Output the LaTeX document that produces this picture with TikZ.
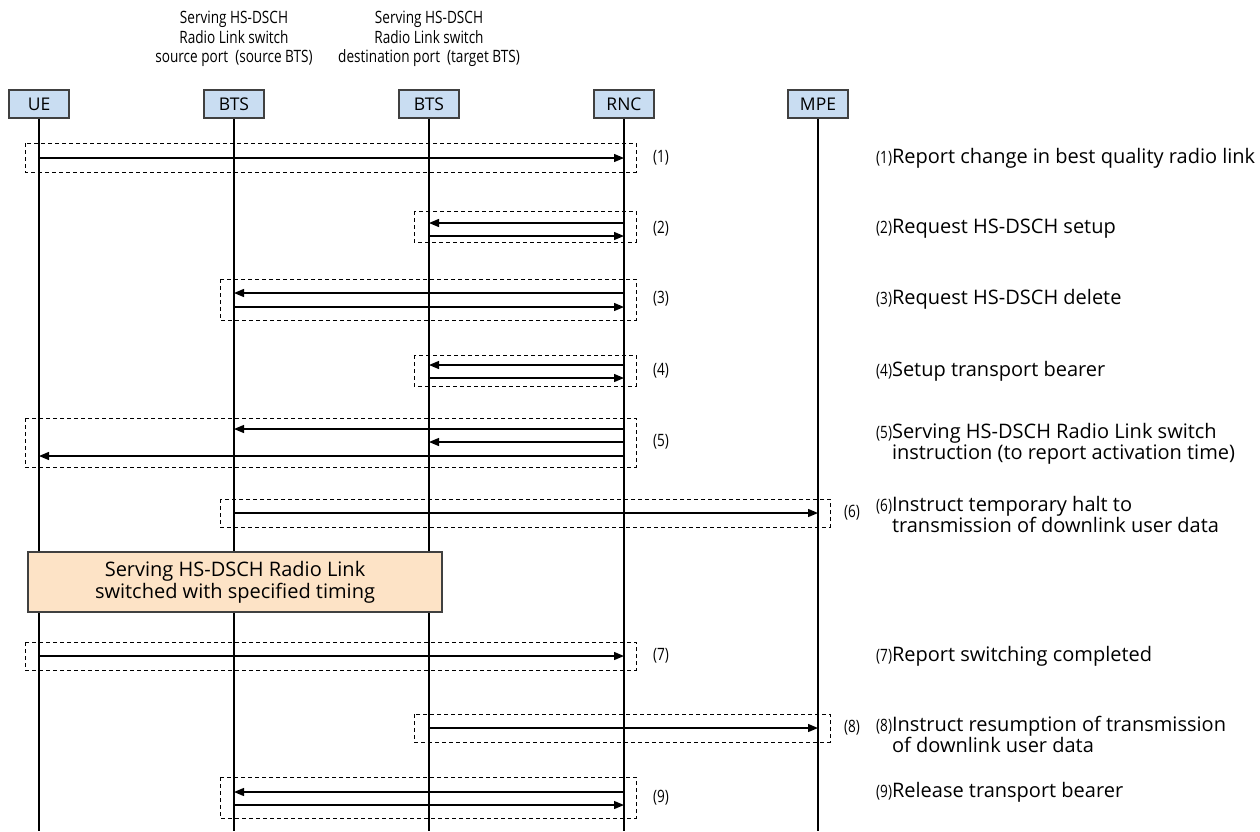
\documentclass[tikz,border=0pt]{standalone}
\usepackage{fontspec}
\setmainfont{Open Sans}
\newfontfamily\narrowfont[FakeStretch=0.8]{Open Sans}
\usetikzlibrary{arrows.meta,positioning}

\definecolor{headblue}{HTML}{C9DDF2}
\definecolor{switchpeach}{HTML}{FDE3C6}
\definecolor{edgegray}{HTML}{404040}

\newcommand{\stepno}[1]{{\narrowfont\fontsize{17}{17}\selectfont(#1)}}

\tikzset{
	entity/.style={draw=edgegray, fill=headblue, line width=1.2pt, minimum width=60pt, minimum height=28pt, inner sep=0pt, font=\fontsize{17.5}{19}\selectfont},
	porttext/.style={align=center, inner sep=0pt, font=\narrowfont\fontsize{17}{19.5}\selectfont},
	life/.style={line width=1.6pt},
	msg/.style={line width=1.3pt, -{Triangle[length=10pt,width=8pt]}},
	grp/.style={line width=0.9pt, dash pattern=on 4pt off 3pt},
	grpno/.style={font=\narrowfont\fontsize{17}{17}\selectfont, inner sep=0pt},
	switchbox/.style={draw=edgegray, fill=switchpeach, line width=1.2pt, minimum width=414pt, minimum height=60pt, align=center, font=\fontsize{20}{22}\selectfont},
	note/.style={anchor=west, align=left, inner sep=0pt, font=\fontsize{20}{18}\selectfont}
}

\begin{document}
\begin{tikzpicture}[x=1pt, y=-1pt]
	
	\useasboundingbox (0,0) rectangle (1260,831);
	
	\coordinate (bottom) at (0,831);
	
	%% heads of the lifelines
	\node[entity] (UE) at (39,104) {UE};
	\node[entity] (BTSs) at (234,104) {BTS};
	\node[entity] (BTSt) at (429,104) {BTS};
	\node[entity] (RNC) at (624,104) {RNC};
	\node[entity] (MPE) at (818,104) {MPE};
	
	\node[porttext] (srcport) at (234,39) {Serving HS-DSCH\\Radio Link switch\\source port\ \ (source BTS)};
	\node[porttext] (dstport) at (429,39) {Serving HS-DSCH\\Radio Link switch\\destination port\ \ (target BTS)};
	
	\foreach \e in {UE, BTSs, BTSt, RNC, MPE}
		\draw[life] (\e.south) -- (\e.south |- bottom);
	
	%% message rows
	\coordinate (m1) at (0,158);
	\coordinate (m2a) at (0,223); \coordinate (m2b) at (0,236);
	\coordinate (m3a) at (0,293); \coordinate (m3b) at (0,307);
	\coordinate (m4a) at (0,365); \coordinate (m4b) at (0,378);
	\coordinate (m5a) at (0,429); \coordinate (m5b) at (0,442); \coordinate (m5c) at (0,456);
	\coordinate (m6) at (0,513);
	\coordinate (m7) at (0,656);
	\coordinate (m8) at (0,728);
	\coordinate (m9a) at (0,792); \coordinate (m9b) at (0,805);
	
	\draw[msg] (UE |- m1) -- (RNC |- m1);
	\draw[msg] (RNC |- m2a) -- (BTSt |- m2a);
	\draw[msg] (BTSt |- m2b) -- (RNC |- m2b);
	\draw[msg] (RNC |- m3a) -- (BTSs |- m3a);
	\draw[msg] (BTSs |- m3b) -- (RNC |- m3b);
	\draw[msg] (RNC |- m4a) -- (BTSt |- m4a);
	\draw[msg] (BTSt |- m4b) -- (RNC |- m4b);
	\draw[msg] (RNC |- m5a) -- (BTSs |- m5a);
	\draw[msg] (RNC |- m5b) -- (BTSt |- m5b);
	\draw[msg] (RNC |- m5c) -- (UE |- m5c);
	\draw[msg] (BTSs |- m6) -- (MPE |- m6);
	\draw[msg] (UE |- m7) -- (RNC |- m7);
	\draw[msg] (BTSt |- m8) -- (MPE |- m8);
	\draw[msg] (RNC |- m9a) -- (BTSs |- m9a);
	\draw[msg] (BTSs |- m9b) -- (RNC |- m9b);
	
	%% dashed frames and their numbers
	\draw[grp] (25,143) rectangle (636,172);
	\draw[grp] (414,211) rectangle (636,242);
	\draw[grp] (220,279) rectangle (636,320);
	\draw[grp] (414,355) rectangle (636,386);
	\draw[grp] (25,418) rectangle (636,467);
	\draw[grp] (220,499) rectangle (830,527);
	\draw[grp] (25,642) rectangle (636,670);
	\draw[grp] (414,714) rectangle (830,742);
	\draw[grp] (220,777) rectangle (636,818);
	
	\node[grpno] (n1) at (661,158) {(1)};
	\node[grpno] (n2) at (661,229) {(2)};
	\node[grpno] (n3) at (661,299) {(3)};
	\node[grpno] (n4) at (661,371) {(4)};
	\node[grpno] (n5) at (661,442) {(5)};
	\node[grpno] (n6) at (852,513) {(6)};
	\node[grpno] (n7) at (661,656) {(7)};
	\node[grpno] (n8) at (852,728) {(8)};
	\node[grpno] (n9) at (661,798) {(9)};
	
	\node[switchbox] (switch) at (235,582) {Serving HS-DSCH Radio Link\\switched with specified timing};
	
	%% step descriptions
	\node[note] (d1) at (876,158) {\stepno{1}Report change in best quality radio link};
	\node[note] (d2) at (876,229) {\stepno{2}Request HS-DSCH setup};
	\node[note] (d3) at (876,299) {\stepno{3}Request HS-DSCH delete};
	\node[note] (d4) at (876,371) {\stepno{4}Setup transport bearer};
	\node[note] (d5) at (876,444) {\stepno{5}Serving HS-DSCH Radio Link switch\\\phantom{\stepno{5}}instruction (to report activation time)};
	\node[note] (d6) at (876,516) {\stepno{6}Instruct temporary halt to\\\phantom{\stepno{6}}transmission of downlink user data};
	\node[note] (d7) at (876,656) {\stepno{7}Report switching completed};
	\node[note] (d8) at (876,736) {\stepno{8}Instruct resumption of transmission\\\phantom{\stepno{8}}of downlink user data};
	\node[note] (d9) at (876,792) {\stepno{9}Release transport bearer};
	
\end{tikzpicture}
\end{document}
